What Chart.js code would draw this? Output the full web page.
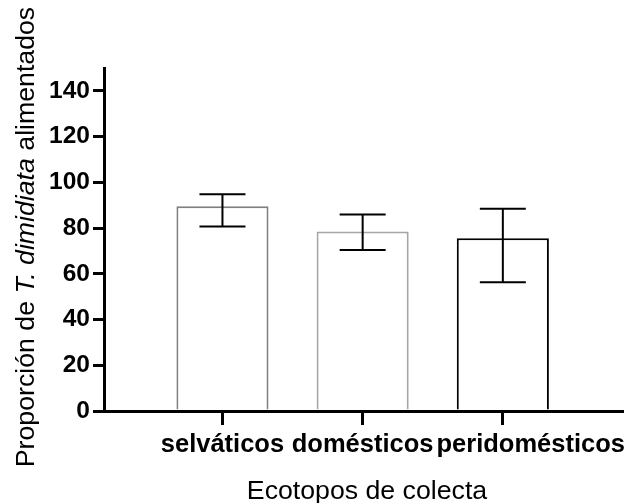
<!DOCTYPE html>
<html>
<head>
<meta charset="utf-8">
<script src="https://cdn.jsdelivr.net/npm/chart.js@4.4.1/dist/chart.umd.min.js"></script>
<style>
  body { margin: 0; background: #fff; }
  #wrap { width: 635px; height: 503px; }
</style>
</head>
<body>
<div id="wrap"><canvas id="bar1" width="635" height="503"></canvas></div>
<script>
// data
const categories = ['selváticos', 'domésticos', 'peridomésticos'];
const means = [89.5, 78.5, 75.5];
const errLow = [80.7, 70.4, 56.3];
const errHigh = [94.8, 85.9, 88.4];
const yTicks = [0, 20, 40, 60, 80, 100, 120, 140];

const barColors = ['#808080', '#a6a6a6', '#000000'];
const FONT = '"Liberation Sans", Arial, sans-serif';

// error bars (mean +/- range), drawn through the chart scales
const errorBars = {
    id: 'errorBars',
    afterDatasetsDraw(chart) {
        const ctx = chart.ctx;
        const xs = chart.scales.x, ys = chart.scales.y;
        ctx.save();
        ctx.strokeStyle = '#000';
        ctx.lineWidth = 2;
        categories.forEach((c, i) => {
            const x = xs.getPixelForValue(i);
            const hi = ys.getPixelForValue(errHigh[i]);
            const lo = ys.getPixelForValue(errLow[i]);
            ctx.beginPath();
            ctx.moveTo(x, hi); ctx.lineTo(x, lo);
            ctx.moveTo(x - 23, hi); ctx.lineTo(x + 23, hi);
            ctx.moveTo(x - 23, lo); ctx.lineTo(x + 23, lo);
            ctx.stroke();
        });
        ctx.restore();
    }
};

// category labels + axis titles (y title has an italic part)
const texts = {
    id: 'texts',
    afterDraw(chart) {
        const ctx = chart.ctx;
        const xs = chart.scales.x;
        ctx.save();
        ctx.fillStyle = '#000';
        ctx.textBaseline = 'alphabetic';

        // x labels: centred on tick, pushed right if they would overlap
        ctx.font = 'bold 25.5px ' + FONT;
        let prevEnd = -Infinity;
        categories.forEach((c, i) => {
            const w = ctx.measureText(c).width;
            let left = xs.getPixelForValue(i) - w / 2;
            if (left < prevEnd + 3) left = prevEnd + 3;
            ctx.textAlign = 'left';
            ctx.fillText(c, left, 452);
            prevEnd = left + w;
        });

        // x title
        ctx.font = '26.7px ' + FONT;
        ctx.textAlign = 'center';
        ctx.fillText('Ecotopos de colecta', 367, 499);

        // y title
        const parts = [
            ['Proporción de ', '26.7px ' + FONT],
            ['T. dimidiata', 'italic 26.7px ' + FONT],
            [' alimentados', '26.7px ' + FONT]
        ];
        let total = 0;
        parts.forEach(p => { ctx.font = p[1]; total += ctx.measureText(p[0]).width; });
        ctx.translate(34, 237);
        ctx.rotate(-Math.PI / 2);
        ctx.textAlign = 'left';
        let pos = -total / 2;
        parts.forEach(p => {
            ctx.font = p[1];
            ctx.fillText(p[0], pos, 0);
            pos += ctx.measureText(p[0]).width;
        });
        ctx.restore();
    }
};

new Chart(document.getElementById('bar1'), {
    type: 'bar',
    data: {
        datasets: [
            {
                label: 'Proporción',
                data: means.map((m, i) => ({ x: i, y: m })),
                backgroundColor: '#ffffff',
                borderColor: barColors,
                borderWidth: 2,
                barPercentage: 0.657,
                categoryPercentage: 1,
            }
        ]
    },
    options: {
        responsive: false,
        animation: false,
        layout: { padding: { top: 68, right: 13, left: 0, bottom: 0 } },
        plugins: {
            legend: { display: false },
            tooltip: { enabled: false },
        },
        scales: {
            x: {
                type: 'linear',
                offset: false,
                min: -0.845,
                max: 2.85,
                afterBuildTicks: s => { s.ticks = categories.map((c, i) => ({ value: i })); },
                afterFit: s => { s.height = 92; },
                ticks: { display: false },
                grid: { offset: false, drawOnChartArea: false, drawTicks: true, tickLength: 14, lineWidth: 3, color: '#000' },
                border: { display: true, width: 3, color: '#000' },
            },
            y: {
                min: 0,
                max: 150,
                afterBuildTicks: s => { s.ticks = yTicks.map(v => ({ value: v })); },
                afterFit: s => { s.width = 104; },
                ticks: {
                    color: '#000',
                    padding: 3,
                    font: { family: FONT, weight: 'bold', size: 24.5 },
                },
                grid: { drawOnChartArea: false, drawTicks: true, tickLength: 11, lineWidth: 3, color: '#000' },
                border: { display: true, width: 3, color: '#000' },
            }
        }
    },
    plugins: [errorBars, texts]
});
</script>
</body>
</html>
